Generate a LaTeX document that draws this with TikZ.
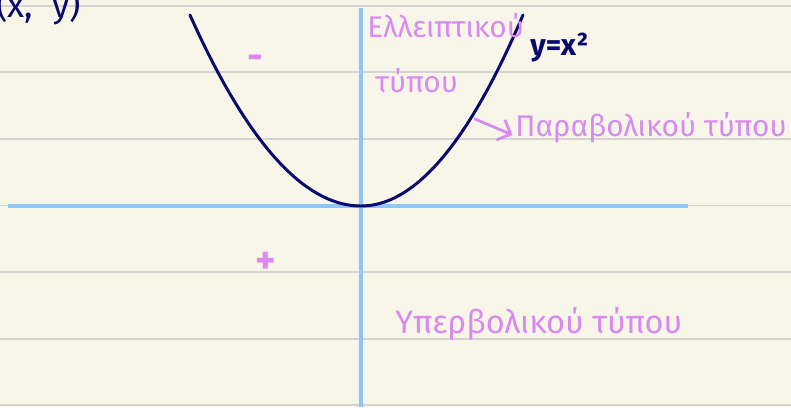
\documentclass[tikz,border=0pt]{standalone}
\usepackage{fontspec}
\setmainfont{Fira Sans}
\usetikzlibrary{arrows.meta}
\definecolor{paper}{HTML}{F8F5E9}
\definecolor{rule}{HTML}{D4D4D4}
\definecolor{axis}{HTML}{8CC6F7}
\definecolor{ink}{HTML}{0A0A6E}
\definecolor{note}{HTML}{D98AF2}

\begin{document}
\begin{tikzpicture}[x=0.02cm, y=-0.02cm,
  notetext/.style={text=note, font=\fontsize{17}{19}\selectfont, inner sep=0pt},
  signtext/.style={text=note, font=\fontsize{22}{24}\selectfont\bfseries, inner sep=0pt},
  inktext/.style={text=ink, font=\fontsize{17}{19}\selectfont\bfseries, inner sep=0pt}]
% Parameters
\def\vx{361}
\def\vy{206}
% Paper and ruled lines
\fill[paper] (0,0) rectangle (791,407);
\useasboundingbox (0,0) rectangle (791,407);
\foreach \y in {6,72,139,205.5,272,339,405}
  \draw[rule, line width=0.9pt] (0,\y) -- (791,\y);
% Axes
\draw[axis, line width=2.2pt] (8,\vy) -- (688,\vy);
\draw[axis, line width=2.2pt] (\vx,8) -- (\vx,407);
% Parabola y = x^2 (domain in hundreds of px)
\draw[ink, line width=1.7pt, line cap=round]
  plot[domain=-1.71:0, samples=40, smooth] ({\vx+100*\x},{\vy-65.3*\x*\x})
  -- plot[domain=0:1.62, samples=40, smooth] ({\vx+100*\x},{\vy-72.8*\x*\x});
% Labels in ink
\node[inktext, anchor=base west, font=\fontsize{20}{22}\selectfont] (point) at (-4,17) {(x,\; y)};
\node[inktext, anchor=base west] (curve) at (530,55) {y=x²};
% Region labels
\node[notetext, anchor=base west] (ellA) at (367,37) {Ελλειπτικού};
\node[notetext, anchor=base west] (ellB) at (375,92) {τύπου};
\node[notetext, anchor=base west] (parab) at (515,136) {Παραβολικού τύπου};
\node[notetext, anchor=base west, font=\fontsize{18.5}{20}\selectfont] (hyper) at (395,333) {Υπερβολικού τύπου};
\node[signtext] (minus) at (255,62) {-};
\node[signtext] (plus) at (266,263) {+};
% Arrow to the parabola label
\coordinate (tail) at (475,119);
\draw[note, line width=1.6pt, line cap=round, -{Straight Barb[length=2.2mm]}, shorten >=1.5pt] (tail) -- (parab.base west);
\end{tikzpicture}
\end{document}
